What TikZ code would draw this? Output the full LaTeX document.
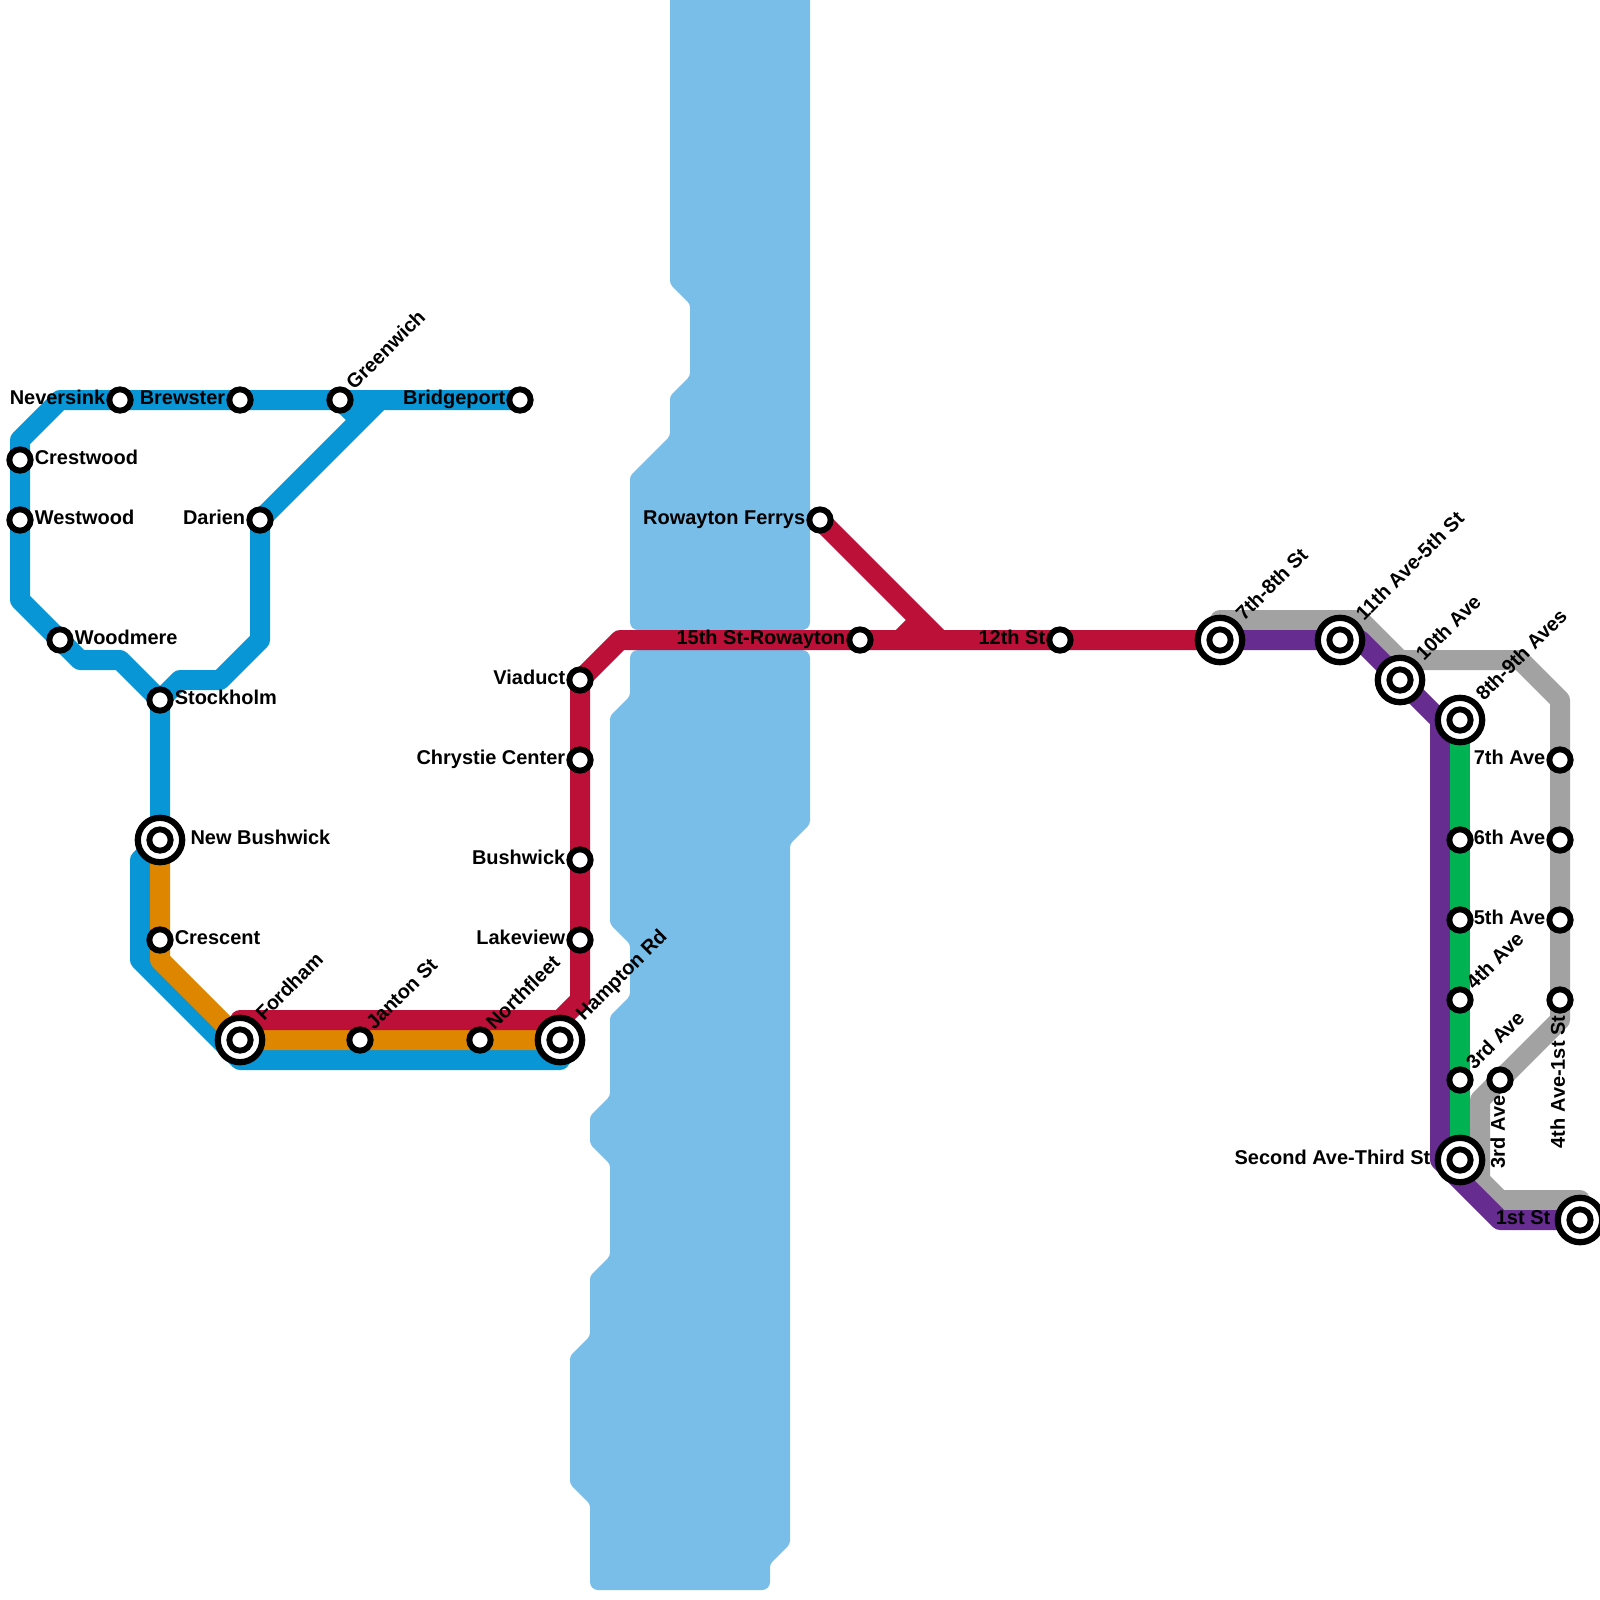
\documentclass[tikz,border=0pt]{standalone}
\usepackage{fontspec}
\setmainfont{Liberation Sans}
\definecolor{waterblue}{HTML}{79BDE9}
\definecolor{lineblue}{HTML}{0896D7}
\definecolor{linered}{HTML}{BD1038}
\definecolor{lineorange}{HTML}{DF8600}
\definecolor{linepurple}{HTML}{662C90}
\definecolor{linegreen}{HTML}{00B251}
\definecolor{linegray}{HTML}{A2A2A2}
\pgfdeclarelayer{lines}
\pgfsetlayers{lines,main}

\begin{document}
\begin{tikzpicture}[x=0.25cm, y=-0.25cm,
                water/.style={fill=waterblue, rounded corners=0.4mm},
                metro/.style={line width=2.5mm, line join=round},
                stop/.style={circle, draw=black, fill=white, line width=0.74mm, minimum size=2.66mm, inner sep=0pt},
                hub/.style={circle, draw=black, fill=white, line width=0.78mm, minimum size=5.55mm, inner sep=0pt},
                tag/.style={font=\bfseries\fontsize{7.1}{8}\selectfont, inner sep=0pt, text=black},
                tagr/.style={tag, anchor=base west, xshift=1.78mm, yshift=-0.62mm},
                tagl/.style={tag, anchor=base east, xshift=-1.78mm, yshift=-0.62mm},
                tagup/.style={tag, anchor=base west, xshift=1.75mm, yshift=1.12mm, rotate=45},
                tagdown/.style={tag, anchor=base east, xshift=0.62mm, yshift=-1.9mm, rotate=90},
                hubr/.style={tag, anchor=base west, xshift=3.75mm, yshift=-0.62mm},
                hubl/.style={tag, anchor=base east, xshift=-3.65mm, yshift=-0.62mm},
                hubup/.style={tag, anchor=base west, xshift=2.95mm, yshift=2.25mm, rotate=45}]
                \useasboundingbox (0,0) rectangle (80,80);

                \node[stop] (neversink) at (6,20) {};
                \node[stop] (brewster) at (12,20) {};
                \node[stop] (greenwich) at (17,20) {};
                \node[stop] (bridgeport) at (26,20) {};
                \node[stop] (crestwood) at (1,23) {};
                \node[stop] (westwood) at (1,26) {};
                \node[stop] (woodmere) at (3,32) {};
                \node[stop] (darien) at (13,26) {};
                \node[stop] (stockholm) at (8,35) {};
                \node[hub] (newbushwick) at (8,42) {};
                \node[stop] (crescent) at (8,47) {};
                \node[hub] (fordham) at (12,52) {};
                \node[stop] (janton) at (18,52) {};
                \node[stop] (northfleet) at (24,52) {};
                \node[hub] (hampton) at (28,52) {};
                \node[stop] (lakeview) at (29,47) {};
                \node[stop] (bushwick) at (29,43) {};
                \node[stop] (chrystie) at (29,38) {};
                \node[stop] (viaduct) at (29,34) {};
                \node[stop] (ferrys) at (41,26) {};
                \node[stop] (rowayton) at (43,32) {};
                \node[stop] (twelfth) at (53,32) {};
                \node[hub] (seventheighth) at (61,32) {};
                \node[hub] (eleventh) at (67,32) {};
                \node[hub] (tenth) at (70,34) {};
                \node[hub] (eighthninth) at (73,36) {};
                \node[stop] (seventh) at (78,38) {};
                \node[stop] (sixth) at (78,42) {};
                \node[stop] (fifth) at (78,46) {};
                \node[stop] (fourthfirst) at (78,50) {};
                \node[stop] (thirdgray) at (75,54) {};
                \node[stop] (sixthgreen) at (73,42) {};
                \node[stop] (fifthgreen) at (73,46) {};
                \node[stop] (fourth) at (73,50) {};
                \node[stop] (third) at (73,54) {};
                \node[hub] (second) at (73,58) {};
                \node[hub] (first) at (79,61) {};

                \foreach \hubname in {newbushwick, fordham, hampton, seventheighth, eleventh, tenth, eighthninth, second, first}
                    \node[stop] (\hubname in) at (\hubname) {};

                \node[tagl] (neversinkt) at (neversink) {Neversink};
                \node[tagl] (brewstert) at (brewster) {Brewster};
                \node[tagup] (greenwicht) at (greenwich) {Greenwich};
                \node[tagl] (bridgeportt) at (bridgeport) {Bridgeport};
                \node[tagr] (crestwoodt) at (crestwood) {Crestwood};
                \node[tagr] (westwoodt) at (westwood) {Westwood};
                \node[tagr] (woodmeret) at (woodmere) {Woodmere};
                \node[tagl] (darient) at (darien) {Darien};
                \node[tagr] (stockholmt) at (stockholm) {Stockholm};
                \node[hubr] (newbushwickt) at (newbushwick) {New Bushwick};
                \node[tagr] (crescentt) at (crescent) {Crescent};
                \node[hubup] (fordhamt) at (fordham) {Fordham};
                \node[tagup] (jantont) at (janton) {Janton St};
                \node[tagup] (northfleett) at (northfleet) {Northfleet};
                \node[hubup] (hamptont) at (hampton) {Hampton Rd};
                \node[tagl] (lakeviewt) at (lakeview) {Lakeview};
                \node[tagl] (bushwickt) at (bushwick) {Bushwick};
                \node[tagl] (chrystiet) at (chrystie) {Chrystie Center};
                \node[tagl] (viaductt) at (viaduct) {Viaduct};
                \node[tagl] (ferryst) at (ferrys) {Rowayton Ferrys};
                \node[tagl] (rowaytont) at (rowayton) {15th St-Rowayton};
                \node[tagl] (twelftht) at (twelfth) {12th St};
                \node[hubup] (seventheighthl) at (seventheighth) {7th-8th St};
                \node[hubup] (eleventht) at (eleventh) {11th Ave-5th St};
                \node[hubup] (tentht) at (tenth) {10th Ave};
                \node[hubup] (eighthnintht) at (eighthninth) {8th-9th Aves};
                \node[tagl] (seventht) at (seventh) {7th Ave};
                \node[tagl] (sixtht) at (sixth) {6th Ave};
                \node[tagl] (fiftht) at (fifth) {5th Ave};
                \node[tagdown] (fourthfirstt) at (fourthfirst) {4th Ave-1st St};
                \node[tagdown] (thirdgrayt) at (thirdgray) {3rd Ave};
                \node[tagup] (fourtht) at (fourth) {4th Ave};
                \node[tagup] (thirdt) at (third) {3rd Ave};
                \node[hubl] (secondt) at (second) {Second Ave-Third St};
                \node[hubl] (firstt) at (first) {1st St};

                \begin{pgfonlayer}{lines}
                \fill[water] (33.5,-1) -- (33.5,14.2) -- (34.5,15.2) -- (34.5,18.8) -- (33.5,19.8) -- (33.5,21.8) -- (31.5,23.8) [rounded corners=1mm] -- (31.5,31.5) -- (40.5,31.5) -- (40.5,-1) -- cycle;
                \fill[water] (36,32.5) [rounded corners=1mm] -- (40.5,32.5) [rounded corners=0.4mm] -- (40.5,41.2) -- (39.5,42.2) -- (39.5,77.2) -- (38.5,78.2) [rounded corners=1mm] -- (38.5,79.5) -- (29.5,79.5) [rounded corners=0.4mm] -- (29.5,75.2) -- (28.5,74.2) -- (28.5,67.8) -- (29.5,66.8) -- (29.5,63.8) -- (30.5,62.8) -- (30.5,58.2) -- (29.5,57.2) -- (29.5,55.8) -- (30.5,54.8) -- (30.5,50.8) -- (31.5,49.8) -- (31.5,47.2) -- (30.5,46.2) -- (30.5,35.8) -- (31.5,34.8) [rounded corners=1mm] -- (31.5,32.5) -- cycle;

                \draw[metro, lineblue] (bridgeport.center) -- (greenwich.center) -- (brewster.center) -- (neversink.center) -- (3,20) -- (1,22) -- (crestwood.center) -- (westwood.center) -- (1,30) -- (woodmere.center) -- (4,33) -- (6,33) -- (stockholm.center) -- (newbushwick.center) -- (7,43) -- (7,48) -- (12,53) -- (28,53) -- (hampton.center);
                \draw[metro, lineblue] (stockholm.center) -- (9,34) -- (11,34) -- (13,32) -- (darien.center) -- (19,20);
                \draw[metro, lineblue] (18,21) -- (greenwich.center);
                \draw[metro, lineorange] (newbushwick.center) -- (crescent.center) -- (8,48) -- (fordham.center) -- (janton.center) -- (northfleet.center) -- (hampton.center);
                \draw[metro, linered] (fordham.center) -- (12,51) -- (28,51) -- (29,50) -- (lakeview.center) -- (bushwick.center) -- (chrystie.center) -- (viaduct.center) -- (31,32) -- (rowayton.center) -- (twelfth.center) -- (seventheighth.center);
                \draw[metro, linered] (ferrys.center) -- (47,32);
                \draw[metro, linered] (46,31) -- (45,32);
                \draw[metro, linegray] (seventheighth.center) -- (61,31) -- (68,31) -- (70,33) -- (76,33) -- (78,35) -- (seventh.center) -- (sixth.center) -- (fifth.center) -- (fourthfirst.center) -- (78,51) -- (thirdgray.center) -- (74,55) -- (74,59) -- (75,60) -- (79,60) -- (first.center);
                \draw[metro, linepurple] (seventheighth.center) -- (eleventh.center) -- (68,32) -- (72,36) -- (72,58) -- (75,61) -- (first.center);
                \draw[metro, linegreen] (eighthninth.center) -- (sixthgreen.center) -- (fifthgreen.center) -- (fourth.center) -- (third.center) -- (second.center);
                \end{pgfonlayer}
            \end{tikzpicture}
\end{document}
